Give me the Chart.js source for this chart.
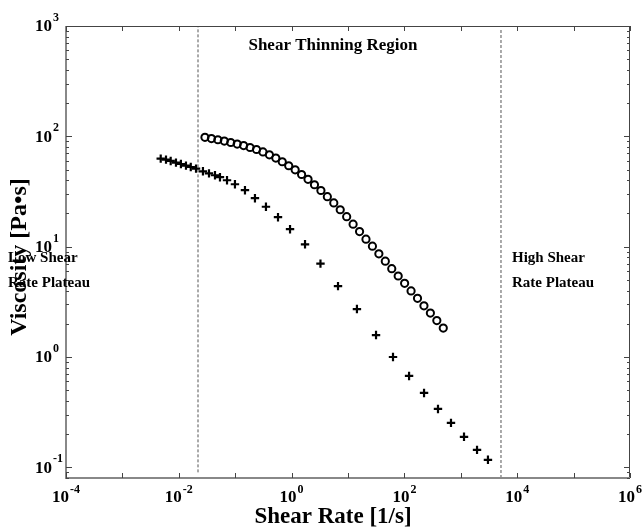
<!DOCTYPE html>
<html>
<head>
<meta charset="utf-8">
<script src="https://cdn.jsdelivr.net/npm/chart.js@4"></script>
<style>
  html, body { margin: 0; padding: 0; background: #fff; }
  #chart { display: block; }
</style>
</head>
<body>
<canvas id="chart" width="644" height="529"></canvas>
<script>
// circles (upper curve)
const shearRateCircles = [0.0291, 0.0379, 0.0493, 0.0641, 0.0834, 0.1085, 0.1411, 0.1835, 0.2387, 0.3105,
  0.404, 0.525, 0.683, 0.889, 1.156, 1.504, 1.956, 2.544, 3.309, 4.304,
  5.60, 7.28, 9.47, 12.32, 16.03, 20.84, 27.11, 35.26, 45.87, 59.66,
  77.6, 100.9, 131.3, 170.8, 222.1, 288.9, 375.8, 488.8];
const viscosityCircles = [97.9, 95.5, 93.1, 90.5, 87.9, 85.1, 82.4, 79.2, 76.0, 72.2,
  68.0, 63.5, 58.8, 54.1, 49.7, 45.1, 40.8, 36.4, 32.3, 28.4,
  24.9, 21.6, 18.7, 16.0, 13.7, 11.7, 10.1, 8.61, 7.39, 6.32,
  5.42, 4.65, 3.97, 3.40, 2.91, 2.50, 2.14, 1.83];

// crosses (lower curve)
const shearRateCrosses = [0.00478, 0.00593, 0.00718, 0.00891, 0.0109, 0.0134, 0.0163, 0.0202, 0.0268, 0.0343,
  0.0438, 0.0537, 0.0716, 0.099, 0.149, 0.224, 0.351, 0.574, 0.938, 1.73,
  3.25, 6.65, 14.4, 31.4, 62.8, 121, 223, 394, 670, 1140, 1940, 3030];
const viscosityCrosses = [62.8, 61.5, 59.8, 57.8, 56.1, 54.3, 52.7, 51.0, 48.2, 46.2,
  44.4, 42.6, 40.0, 36.8, 32.5, 27.5, 23.0, 18.5, 14.4, 10.5,
  7.02, 4.39, 2.72, 1.58, 1.0, 0.673, 0.472, 0.338, 0.253, 0.189, 0.144, 0.117];

// region boundaries (shear rate) and their vertical extent (viscosity)
const regionBounds = [0.0219, 5160];
const regionTop = [1000, 950];
const regionBottom = [0.09, 0.08];

const xTickExps = [-4, -2, 0, 2, 4, 6];
const yTickExps = [-1, 0, 1, 2, 3];
const xRange = [1e-4, 1e6];
const yRange = [0.08, 1000];

const serif = "'Liberation Serif', 'Times New Roman', serif";

function toPoints(xs, ys) {
  return xs.map((x, i) => ({ x: x, y: ys[i] }));
}

// draws the frame, inward ticks, superscript tick labels, titles and region texts
const decorations = {
  id: "decorations",
  afterDraw(chart) {
    const ctx = chart.ctx;
    const area = chart.chartArea;
    const xs = chart.scales.x;
    const ys = chart.scales.y;
    ctx.save();

    // frame
    ctx.strokeStyle = "#444";
    ctx.lineWidth = 1;
    ctx.strokeRect(area.left + 0.5, area.top + 0.5, area.right - area.left - 1, area.bottom - area.top - 1);
    ctx.strokeStyle = "#888";
    ctx.lineWidth = 2;
    ctx.beginPath();
    ctx.moveTo(area.left, area.top);
    ctx.lineTo(area.left, area.bottom);
    ctx.lineTo(area.right, area.bottom);
    ctx.stroke();

    // x ticks, every decade, top and bottom
    ctx.strokeStyle = "#444";
    ctx.lineWidth = 1;
    ctx.beginPath();
    for (let e = -4; e <= 6; e++) {
      const px = Math.round(xs.getPixelForValue(Math.pow(10, e))) + 0.5;
      ctx.moveTo(px, area.bottom);
      ctx.lineTo(px, area.bottom - 5);
      ctx.moveTo(px, area.top);
      ctx.lineTo(px, area.top + 5);
    }
    // y ticks incl. minor, left and right
    for (let e = -2; e <= 3; e++) {
      for (let m = 1; m <= 9; m++) {
        const v = m * Math.pow(10, e);
        if (v < yRange[0] || v > yRange[1]) continue;
        const py = Math.round(ys.getPixelForValue(v)) + 0.5;
        const len = m === 1 ? 6 : 3;
        ctx.moveTo(area.left, py);
        ctx.lineTo(area.left + len, py);
        ctx.moveTo(area.right, py);
        ctx.lineTo(area.right - len, py);
      }
    }
    ctx.stroke();

    ctx.fillStyle = "#000";
    ctx.textBaseline = "middle";
    const baseFont = "bold 17px " + serif;
    const expFont = "bold 12px " + serif;

    // y tick labels
    yTickExps.forEach(e => {
      const py = ys.getPixelForValue(Math.pow(10, e));
      ctx.font = baseFont;
      ctx.textAlign = "left";
      ctx.fillText("10", 35, py + 1);
      const w = ctx.measureText("10").width;
      ctx.font = expFont;
      ctx.fillText(String(e), 35 + w + 1, py - 8);
    });

    // x tick labels
    xTickExps.forEach(e => {
      const px = xs.getPixelForValue(Math.pow(10, e));
      ctx.font = baseFont;
      const w1 = ctx.measureText("10").width;
      ctx.font = expFont;
      const w2 = ctx.measureText(String(e)).width;
      const start = px - (w1 + w2 + 1) / 2;
      ctx.textAlign = "left";
      ctx.font = baseFont;
      ctx.fillText("10", start, area.bottom + 20);
      ctx.font = expFont;
      ctx.fillText(String(e), start + w1 + 1, area.bottom + 12);
    });

    // axis titles
    ctx.font = "bold 23px " + serif;
    ctx.textAlign = "center";
    ctx.fillText("Shear Rate [1/s]", 333, 517);
    ctx.save();
    ctx.translate(20, 257);
    ctx.rotate(-Math.PI / 2);
    ctx.font = "bold 24px " + serif;
    ctx.fillText("Viscosity [Pa\u2022s]", 0, 0);
    ctx.restore();

    // region labels
    ctx.font = "bold 17px " + serif;
    ctx.textAlign = "center";
    ctx.fillText("Shear Thinning Region", 333, 46);
    ctx.font = "bold 15px " + serif;
    ctx.textAlign = "left";
    ctx.fillText("Low Shear", 8, 258);
    ctx.fillText("Rate Plateau", 8, 283);
    ctx.fillText("High Shear", 512, 258);
    ctx.fillText("Rate Plateau", 512, 283);

    ctx.restore();
  }
};

new Chart(document.getElementById("chart"), {
  type: "scatter",
  data: {
    datasets: [
      {
        label: "circles",
        data: toPoints(shearRateCircles, viscosityCircles),
        pointStyle: "circle",
        pointRadius: 3.6,
        pointBorderWidth: 2,
        borderColor: "#000",
        backgroundColor: "rgba(255,255,255,0)",
      },
      {
        label: "crosses",
        data: toPoints(shearRateCrosses, viscosityCrosses),
        pointStyle: "cross",
        pointRadius: 4.2,
        pointBorderWidth: 2.2,
        borderColor: "#000",
        backgroundColor: "#000",
      },
      {
        label: "low",
        type: "line",
        data: [{ x: regionBounds[0], y: regionBottom[0] }, { x: regionBounds[0], y: regionTop[0] }],
        borderColor: "#555",
        borderWidth: 1,
        borderDash: [3, 2],
        pointRadius: 0,
      },
      {
        label: "high",
        type: "line",
        data: [{ x: regionBounds[1], y: regionBottom[1] }, { x: regionBounds[1], y: regionTop[1] }],
        borderColor: "#555",
        borderWidth: 1,
        borderDash: [3, 2],
        pointRadius: 0,
      },
    ],
  },
  options: {
    responsive: false,
    animation: false,
    events: [],
    layout: { padding: { top: 26, right: 14, left: 0, bottom: 0 } },
    plugins: { legend: { display: false }, tooltip: { enabled: false } },
    scales: {
      x: {
        type: "logarithmic",
        min: xRange[0],
        max: xRange[1],
        grid: { display: false },
        border: { display: false },
        ticks: { display: false },
        afterFit: s => { s.height = 51; },
      },
      y: {
        type: "logarithmic",
        min: yRange[0],
        max: yRange[1],
        grid: { display: false },
        border: { display: false },
        ticks: { display: false },
        afterFit: s => { s.width = 66; },
      },
    },
  },
  plugins: [decorations],
});
</script>
</body>
</html>
